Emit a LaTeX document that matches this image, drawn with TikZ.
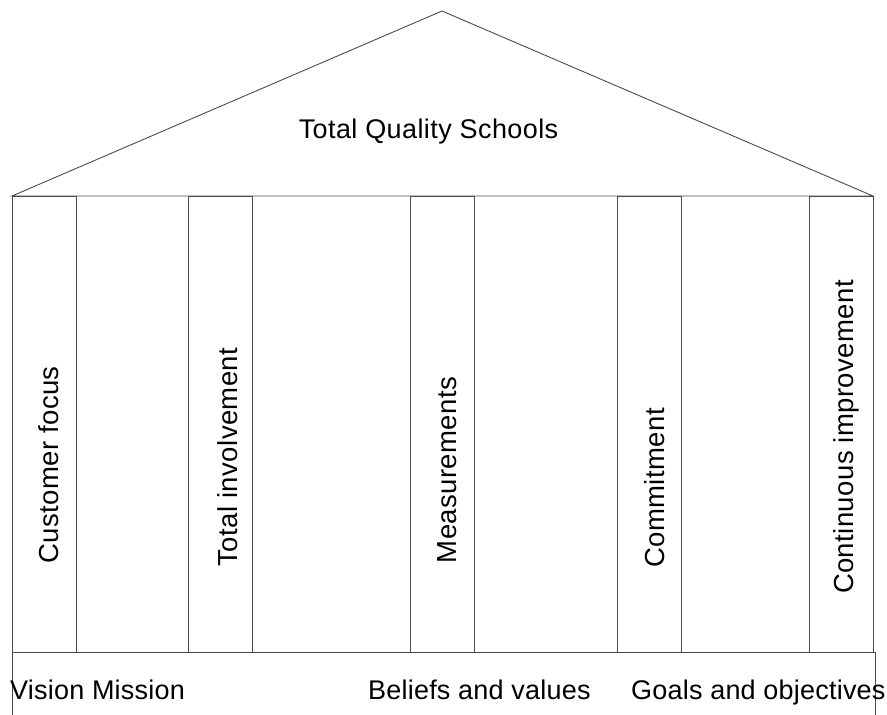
\documentclass[tikz,border=0pt]{standalone}
\usepackage{fontspec}
\setmainfont[LetterSpace=1.5]{Liberation Sans}
\begin{document}
\begin{tikzpicture}[x=1pt,y=-1pt,
  ln/.style={draw=black!70,line width=0.9pt},
  pillar/.style={ln,rectangle,minimum width=64pt,minimum height=456pt,inner sep=0pt},
  lbl/.style={font=\fontsize{27}{30}\selectfont,inner sep=0pt},
  blbl/.style={font=\fontsize{27}{30}\selectfont\addfontfeatures{LetterSpace=0.8},inner sep=0pt,anchor=base west},
  vlbl/.style={font=\fontsize{27.5}{30}\selectfont,inner sep=0pt,rotate=90}]
\useasboundingbox (0,0) rectangle (887,715);
% roof
\coordinate (rl) at (12,196);
\coordinate (apex) at (442,11);
\coordinate (rr) at (873,196);
\draw[ln] (rl) -- (apex) -- (rr) -- cycle;
\node[lbl] (title) at (428.5,132) {Total Quality Schools};
% pillars
\node[pillar] (p1) at (44,424) {};
\node[pillar] (p2) at (220,424) {};
\node[pillar] (p3) at (442,424) {};
\node[pillar] (p4) at (649,424) {};
\node[pillar] (p5) at (841,424) {};
\node[vlbl] (t1) at (49,465) {Customer focus};
\node[vlbl] (t2) at (228,457) {Total involvement};
\node[vlbl] (t3) at (447,470) {Measurements};
\node[vlbl] (t4) at (655,488) {Commitment};
\node[vlbl] (t5) at (846,437) {Continuous improvement};
% base
\coordinate (bl) at (12,652);
\coordinate (br) at (875,652);
\coordinate (bl2) at (12,715);
\coordinate (br2) at (875,715);
\draw[ln] (bl2) -- (bl) -- (br) -- (br2);
\node[blbl] (b1) at (10,699) {Vision Mission};
\node[blbl] (b2) at (368,699) {Beliefs and values};
\node[blbl] (b3) at (631,699) {Goals and objectives};
\end{tikzpicture}
\end{document}
